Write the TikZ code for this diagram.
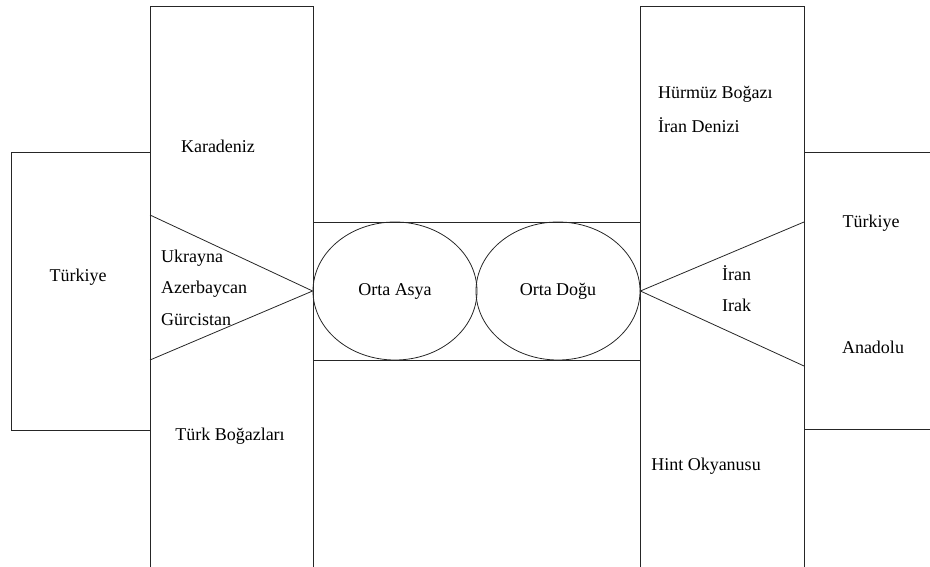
\documentclass[tikz,border=0pt]{standalone}
\usepackage{fontspec}
\setmainfont{Liberation Serif}
\usetikzlibrary{shapes.geometric}
\newcommand{\drawColumns}{%%
  %% The two tall columns.
  \draw[lineStyle] (lcolbl) -- (lcoltl) -- (lcoltr) -- (lcolbr);
  \draw[lineStyle] (rcolbl) -- (rcoltl) -- (rcoltr) -- (rcolbr);
  %% The middle band.
  \draw[lineStyle] (lcoltr |- bandtop) -- (rcoltl |- bandtop);
  \draw[lineStyle] (lcoltr |- bandbot) -- (rcoltl |- bandbot);
}
\newcommand{\drawSides}{%%
  %% The left box.
  \draw[lineStyle] (150,152) -- (11,152) -- (11,430) -- (150,430);
  %% The right box, open to the edge.
  \draw[lineStyle] (804,152) -- (930,152);
  \draw[lineStyle] (804,429) -- (930,429);
}
\newcommand{\drawWedges}{%%
  \draw[lineStyle] (150,215) -- (asya.west) -- (150,360);
  \draw[lineStyle] (804,222) -- (dogu.east) -- (804,366);
}
\newcommand{\placeLabels}{%%
  %% The left column.
  \node[textStyle] (karadeniz) at (218,146) {Karadeniz};
  \node[textStyle] (bogazlar) at (230,436) {Türk Boğazları};
  \node[textStyle] (turkiyeL) at (78,277) {Türkiye};
  \node[textStyle,anchor=west] (ukrayna) at (161,258) {Ukrayna};
  \node[textStyle,anchor=west] (azerbaycan) at (161,289) {Azerbaycan};
  \node[textStyle,anchor=west] (gurcistan) at (161,320) {Gürcistan};
  %% The right column.
  \node[textStyle,anchor=west] (hurmuz) at (658,94) {Hürmüz Boğazı};
  \node[textStyle,anchor=west] (irandeniz) at (658,125) {İran Denizi};
  \node[textStyle,anchor=west] (iran) at (722,273) {İran};
  \node[textStyle,anchor=west] (irak) at (722,305) {Irak};
  \node[textStyle] (hint) at (706,466) {Hint Okyanusu};
  \node[textStyle] (turkiyeR) at (871,223) {Türkiye};
  \node[textStyle] (anadolu) at (873,347) {Anadolu};
}

\begin{document}
\begin{tikzpicture}[x=1pt,y=-1pt,%%
  lineStyle/.style={-,black!85,line width=0.8pt},%%
  ovalStyle/.style={ellipse,draw,black!85,line width=0.8pt,text=black,%%
    minimum width=164pt,minimum height=138pt,inner sep=0pt,%%
    font=\fontsize{18}{21}\selectfont},%%
  textStyle/.style={inner sep=0pt,font=\fontsize{18}{21}\selectfont}
]
\useasboundingbox (0,0) rectangle (930,567);
%%
\coordinate (lcoltl) at (150,6);
\coordinate (lcoltr) at (313,6);
\coordinate (lcolbl) at (150,567);
\coordinate (lcolbr) at (313,567);
\coordinate (rcoltl) at (640,6);
\coordinate (rcoltr) at (804,6);
\coordinate (rcolbl) at (640,567);
\coordinate (rcolbr) at (804,567);
\coordinate (bandtop) at (0,222);
\coordinate (bandbot) at (0,360);
%%
%% The two regions in the middle.
\node[ovalStyle] (asya) at (395,291) {Orta Asya};
\node[ovalStyle] (dogu) at (558,291) {Orta Doğu};
%%
\drawColumns
\drawSides
\drawWedges
\placeLabels
\end{tikzpicture}
\end{document}
